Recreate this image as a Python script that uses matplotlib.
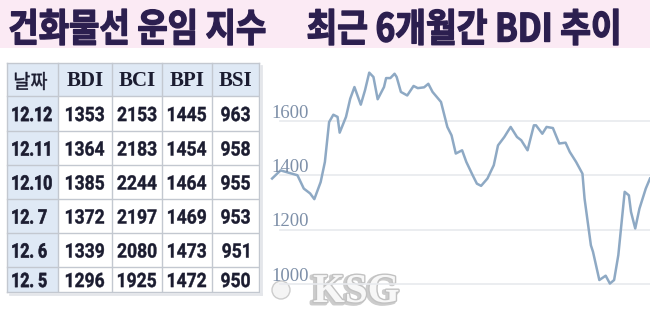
import matplotlib
matplotlib.use("Agg")
from matplotlib import pyplot as plt
from matplotlib.textpath import TextPath
from matplotlib.patches import Rectangle
from matplotlib.font_manager import FontProperties
from matplotlib.transforms import Affine2D
import matplotlib.patheffects as pe

title_left = "건화물선 운임 지수"
title_right = "최근 6개월간 BDI 추이"

headers = ["날짜", "BDI", "BCI", "BPI", "BSI"]
dates = ["12.12", "12.11", "12.10", "12. 7", "12. 6", "12. 5"]
bdi = [1353, 1364, 1385, 1372, 1339, 1296]
bci = [2153, 2183, 2244, 2197, 2080, 1925]
bpi = [1445, 1454, 1464, 1469, 1473, 1472]
bsi = [963, 958, 955, 953, 951, 950]

# BDI trend (day offset, index value)
days = [1, 5, 13, 16, 19, 21, 24, 26, 28, 30, 32, 33, 36, 38, 40, 43, 45, 47,
        49, 51, 54, 55, 57, 59, 60, 62, 65, 68, 70, 73, 75, 77, 81, 84, 86, 88,
        91, 93, 96, 98, 100, 103, 106, 108, 111, 113, 114, 117, 119, 122, 123,
        125, 126, 129, 131, 134, 137, 140, 142, 145, 148, 149, 152, 153, 156,
        159, 161, 163, 165, 168, 170, 171, 173, 175, 178, 180]
values = [1388, 1418, 1400, 1351, 1333, 1312, 1375, 1449, 1596, 1623, 1615,
          1557, 1615, 1682, 1725, 1660, 1713, 1778, 1762, 1680, 1725, 1758,
          1758, 1774, 1762, 1707, 1694, 1729, 1721, 1724, 1737, 1707, 1670,
          1578, 1547, 1480, 1492, 1449, 1400, 1369, 1361, 1388, 1437, 1510,
          1541, 1566, 1578, 1541, 1529, 1492, 1523, 1584, 1584, 1553, 1578,
          1574, 1517, 1520, 1486, 1449, 1406, 1314, 1142, 1118, 1014, 1030,
          1001, 1014, 1106, 1339, 1326, 1265, 1204, 1277, 1351, 1388]
yticks = [1000, 1200, 1400, 1600]

W, H, DPI = 650, 310, 100
PX = DPI / 72.0   # pixels per point

fig = plt.figure(figsize=(W / DPI, H / DPI), dpi=DPI)
fig.patch.set_facecolor("white")

# overlay in pixel coordinates (y down) for title and table
ov = fig.add_axes([0, 0, 1, 1])
ov.set_xlim(0, W)
ov.set_ylim(H, 0)
ov.axis("off")

ov.add_patch(Rectangle((0, 0), W, 48, fc="#fbeaf4", ec="none"))


class Stretch(pe.AbstractPathEffect):
    """squeeze/stretch the glyphs about a point given in display pixels"""

    def __init__(self, sx, sy, cx, cy, lw=0.0):
        super().__init__()
        self.sx, self.sy, self.cx, self.cy, self.lw = sx, sy, cx, cy, lw

    def draw_path(self, renderer, gc, tpath, affine, rgbFace=None):
        a = affine + (Affine2D().translate(-self.cx, -self.cy)
                      .scale(self.sx, self.sy).translate(self.cx, self.cy))
        if self.lw and rgbFace is not None:
            gc0 = renderer.new_gc()
            gc0.copy_properties(gc)
            gc0.set_linewidth(self.lw)
            gc0.set_foreground(rgbFace)
            renderer.draw_path(gc0, tpath, a, rgbFace)
            gc0.restore()
        else:
            renderer.draw_path(gc, tpath, a, rgbFace)


def ink(s, fp):
    return TextPath((0, 0), s, size=40, prop=fp).get_extents()


def box_text(ax, s, x0, x1, top, bottom, color, fp, lw=0.0):
    # real text, sized by width and stretched to the wanted ink height
    e = ink(s, fp)
    fs = (x1 - x0) * 40 / (e.width * PX)
    k = fs * PX / 40
    sy = (bottom - top) / (e.height * k)
    xa = x0 - e.x0 * k
    base = bottom + e.y0 * k * sy
    ax.text(xa, base, s, ha="left", va="baseline", fontsize=fs, color=color,
            fontproperties=fp,
            path_effects=[Stretch(1.0, sy, xa, H - base, lw)])


def cell_text(ax, s, x, cy, height, squeeze, color, fp, align="center", lw=0.0):
    # digits of fixed ink height, a little condensed
    e0 = ink("0", fp)
    e = ink(s, fp)
    fs = height * 40 / (e0.height * PX)
    k = fs * PX / 40
    base = cy + height / 2 + e0.y0 * k
    if align == "center":
        xa = x - (e.x0 + e.width / 2) * k
        cxs = x
    else:
        xa = x - e.x0 * k
        cxs = x
    ax.text(xa, base, s, ha="left", va="baseline", fontsize=fs, color=color,
            fontproperties=fp,
            path_effects=[Stretch(squeeze, 1.0, cxs, H - base, lw)])


title_c = "#2c1f4f"
tfont = FontProperties(family="Noto Sans CJK KR", weight="bold")
box_text(ov, title_left, 10, 265, 9, 45, title_c, tfont, lw=1.0)
box_text(ov, title_right, 308, 618, 9, 45, title_c, tfont, lw=1.0)

# table
col_x = [7, 58, 112, 162, 212, 259]
row_y = [63, 96, 131, 165, 199, 233, 267, 292]
blue = "#dfe9f5"
grid_c = "#c3c8d0"
ov.add_patch(Rectangle((col_x[0], row_y[0]), col_x[-1] - col_x[0], row_y[1] - row_y[0],
                       fc=blue, ec="none"))
ov.add_patch(Rectangle((col_x[0], row_y[1]), col_x[1] - col_x[0], row_y[-1] - row_y[1],
                       fc=blue, ec="none"))
for x in col_x:
    ov.plot([x, x], [row_y[0], row_y[-1]], color=grid_c, lw=1)
for y in row_y:
    ov.plot([col_x[0], col_x[-1]], [y, y], color=grid_c, lw=1)
ov.plot([col_x[-1] + 2, col_x[-1] + 2], [row_y[0] + 3, row_y[-1] + 2], color="#e4e6ea", lw=2)
ov.plot([col_x[0] + 3, col_x[-1] + 2], [row_y[-1] + 2, row_y[-1] + 2], color="#e4e6ea", lw=2)

ink_c = "#1b1c30"
num_font = FontProperties(family="Roboto", weight="bold")
hy = (row_y[0] + row_y[1]) / 2
for i, h in enumerate(headers):
    cx = (col_x[i] + col_x[i + 1]) / 2
    if i == 0:
        box_text(ov, h, 15, 47, 72, 90, ink_c,
                 FontProperties(family="Noto Sans CJK KR"), lw=0.3)
    else:
        ov.text(cx, hy + 1, h, ha="center", va="center", fontsize=15,
                family="Liberation Serif", weight="bold", color=ink_c)

num_cols = [bdi, bci, bpi, bsi]
for r in range(len(dates)):
    cy = (row_y[r + 1] + row_y[r + 2]) / 2 + 0.5
    cell_text(ov, dates[r], 12.5, cy, 14.5, 0.8, ink_c, num_font, align="left", lw=0.5)
    for c, col in enumerate(num_cols):
        cx = (col_x[c + 1] + col_x[c + 2]) / 2
        cell_text(ov, str(col[r]), cx, cy, 14.5, 0.88, ink_c, num_font, lw=0.3)

# chart
ax = fig.add_axes([270 / W, 5 / H, 380 / W, 247 / H])
ax.set_facecolor("none")
ax.set_xlim(0, 180)
ax.set_ylim(922, 1832)
for s in ax.spines.values():
    s.set_visible(False)
ax.set_xticks([])
ax.set_yticks([])
for t in yticks:
    ax.axhline(t, xmin=0.026, xmax=1, color="#e8eaee", lw=1.2, zorder=1)
    ax.text(0.5, t + 12, str(t), ha="left", va="baseline", fontsize=13.5,
            family="Liberation Serif", color="#7d8fa8", zorder=3)
ax.plot(days, values, color="#8ea9c4", lw=1.8, zorder=2,
        solid_joinstyle="round")

# watermark
ov.text(313, 302, "KSG", ha="left", va="baseline", fontsize=29.5,
        family="Liberation Serif", weight="bold", color="#f7f7f7", zorder=5,
        path_effects=[pe.SimpleLineShadow(offset=(-1.5, -1), shadow_color="#aaaaaa",
                                          alpha=0.6, linewidth=3),
                      pe.withStroke(linewidth=2, foreground="#c2c2c2")])
ov.add_patch(plt.Circle((281, 290), 9, fc="#f4f4f4", ec="#cccccc", lw=1, zorder=5))

fig.savefig("out.png", dpi=DPI)
